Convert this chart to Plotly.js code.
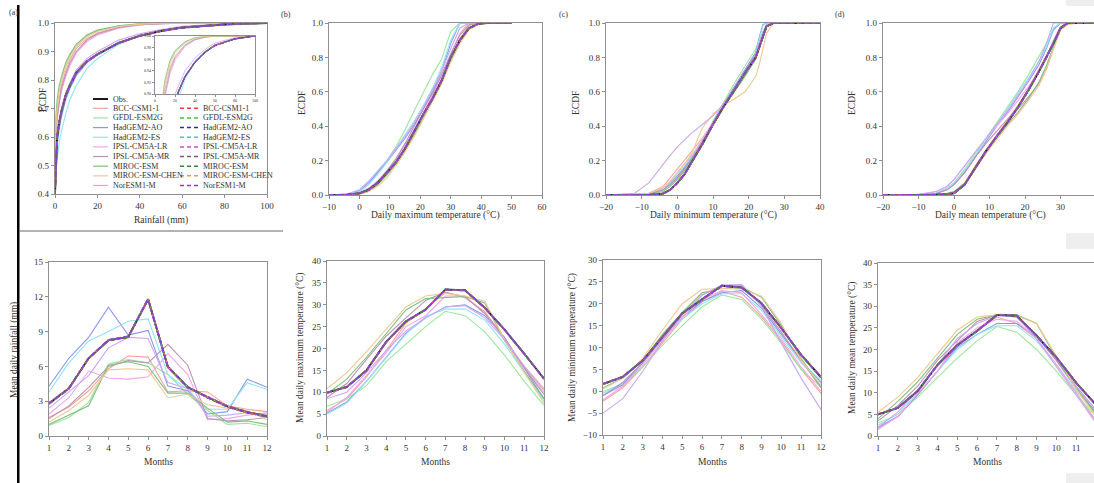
<!DOCTYPE html>
<html><head><meta charset="utf-8">
<script src="https://cdn.plot.ly/plotly-3.0.1.min.js"></script>
<style>html,body{margin:0;padding:0;overflow:hidden;background:#fff}#chart{width:1100px;height:483px}</style>
</head><body><div id="chart"></div>
<script>
const modelNames = ['BCC-CSM1-1','GFDL-ESM2G','HadGEM2-AO','HadGEM2-ES','IPSL-CM5A-LR','IPSL-CM5A-MR','MIROC-ESM','MIROC-ESM-CHEN','NorESM1-M'];
const rawColors = ['#f2a49c','#9be89b','#8c96f0','#90e4f5','#f3a6ec','#b994b4','#7fc07f','#f2c896','#c9a8f5'];
const bcColors  = ['#e8403a','#3cc83c','#2a2aa8','#38c8e8','#e040d8','#7a5c78','#2e8a2e','#f09a28','#8a3ae0'];
const months = [1,2,3,4,5,6,7,8,9,10,11,12];

// (a) rainfall ECDF
const rainX = [0,0.5,1,2,3,5,7,10,15,20,30,40,50,60,80,100];
const rainObs = [0.40,0.55,0.60,0.65,0.69,0.745,0.78,0.825,0.865,0.89,0.93,0.955,0.972,0.984,0.995,1.0];
const rainRaw = [
 [0.40,0.62,0.68,0.74,0.78,0.83,0.87,0.91,0.945,0.965,0.985,0.994,0.998,1,1,1],
 [0.40,0.66,0.71,0.77,0.80,0.85,0.885,0.92,0.955,0.972,0.99,0.997,0.999,1,1,1],
 [0.40,0.52,0.57,0.63,0.67,0.73,0.77,0.815,0.86,0.888,0.93,0.956,0.973,0.985,0.996,1],
 [0.40,0.48,0.52,0.58,0.62,0.68,0.73,0.78,0.84,0.875,0.925,0.955,0.972,0.985,0.996,1],
 [0.40,0.60,0.66,0.72,0.76,0.81,0.85,0.895,0.935,0.958,0.982,0.993,0.998,1,1,1],
 [0.40,0.61,0.67,0.73,0.77,0.82,0.86,0.90,0.94,0.962,0.984,0.994,0.998,1,1,1],
 [0.40,0.68,0.73,0.78,0.81,0.86,0.89,0.925,0.958,0.975,0.99,0.997,0.999,1,1,1],
 [0.40,0.65,0.70,0.76,0.795,0.845,0.88,0.918,0.952,0.97,0.988,0.996,0.999,1,1,1],
 [0.40,0.56,0.61,0.66,0.70,0.755,0.79,0.835,0.875,0.90,0.94,0.962,0.977,0.988,0.997,1]
];
const rainBC = [
 [0.40,0.55,0.60,0.652,0.69,0.745,0.782,0.826,0.866,0.891,0.93,0.955,0.972,0.984,0.995,1],
 [0.40,0.551,0.601,0.65,0.691,0.746,0.78,0.825,0.864,0.889,0.929,0.954,0.971,0.984,0.995,1],
 [0.40,0.548,0.598,0.649,0.689,0.744,0.779,0.824,0.865,0.89,0.93,0.955,0.972,0.983,0.995,1],
 [0.40,0.549,0.60,0.65,0.69,0.743,0.779,0.823,0.863,0.889,0.929,0.955,0.972,0.984,0.995,1],
 [0.40,0.552,0.602,0.651,0.691,0.746,0.781,0.826,0.866,0.891,0.931,0.956,0.972,0.984,0.995,1],
 [0.40,0.55,0.60,0.65,0.69,0.745,0.78,0.825,0.865,0.89,0.93,0.955,0.972,0.984,0.995,1],
 [0.40,0.551,0.60,0.651,0.69,0.745,0.781,0.825,0.866,0.89,0.93,0.955,0.973,0.984,0.995,1],
 [0.40,0.549,0.599,0.649,0.69,0.744,0.78,0.824,0.865,0.89,0.93,0.955,0.972,0.985,0.995,1],
 [0.40,0.55,0.60,0.65,0.69,0.745,0.78,0.825,0.865,0.89,0.93,0.955,0.972,0.984,0.995,1]
];

// (b) daily maximum temperature ECDF
const tmaxX = [-10,-4,0,3,6,9,12,15,18,21,24,27,30,33,36,39,42,50];
const tmaxObs = [0,0.002,0.01,0.03,0.07,0.13,0.19,0.27,0.37,0.47,0.56,0.665,0.80,0.90,0.97,0.995,1,1];
const tmaxRaw = [
 [0,0.001,0.005,0.02,0.06,0.12,0.19,0.27,0.36,0.46,0.56,0.67,0.79,0.91,0.985,1,1,1],
 [0,0.005,0.02,0.06,0.13,0.20,0.28,0.38,0.49,0.60,0.70,0.79,0.95,1,1,1,1,1],
 [0,0.005,0.025,0.07,0.13,0.19,0.26,0.33,0.41,0.50,0.60,0.72,0.88,1,1,1,1,1],
 [0,0.005,0.02,0.06,0.12,0.19,0.27,0.35,0.43,0.52,0.62,0.74,0.90,1,1,1,1,1],
 [0,0.003,0.015,0.04,0.08,0.14,0.21,0.29,0.38,0.48,0.58,0.69,0.82,0.94,1,1,1,1],
 [0,0.002,0.01,0.035,0.08,0.14,0.21,0.30,0.40,0.50,0.59,0.70,0.82,0.93,0.99,1,1,1],
 [0,0.001,0.006,0.025,0.06,0.115,0.18,0.26,0.35,0.45,0.55,0.655,0.78,0.89,0.965,0.995,1,1],
 [0,0.001,0.005,0.02,0.05,0.10,0.17,0.25,0.34,0.44,0.54,0.645,0.77,0.88,0.96,0.99,1,1],
 [0,0.006,0.03,0.08,0.14,0.20,0.27,0.34,0.42,0.51,0.61,0.72,0.85,0.97,1,1,1,1]
];
const tmaxBC = [
 [0,0.002,0.01,0.031,0.07,0.13,0.19,0.27,0.37,0.47,0.56,0.665,0.80,0.90,0.97,0.995,1,1],
 [0,0.002,0.011,0.03,0.071,0.131,0.191,0.271,0.371,0.47,0.561,0.666,0.80,0.90,0.97,0.995,1,1],
 [0,0.002,0.01,0.03,0.07,0.129,0.189,0.269,0.369,0.469,0.559,0.664,0.799,0.899,0.97,0.995,1,1],
 [0,0.002,0.01,0.03,0.07,0.13,0.19,0.27,0.37,0.47,0.56,0.665,0.80,0.90,0.97,0.995,1,1],
 [0,0.002,0.012,0.032,0.072,0.132,0.192,0.272,0.372,0.472,0.562,0.667,0.802,0.902,0.971,0.995,1,1],
 [0,0.002,0.01,0.03,0.07,0.13,0.19,0.27,0.37,0.47,0.56,0.665,0.80,0.90,0.97,0.995,1,1],
 [0,0.002,0.009,0.029,0.069,0.129,0.189,0.269,0.369,0.469,0.559,0.664,0.799,0.899,0.969,0.995,1,1],
 [0,0.001,0.009,0.028,0.068,0.128,0.188,0.268,0.368,0.468,0.558,0.663,0.798,0.898,0.969,0.994,1,1],
 [0,0.002,0.01,0.03,0.07,0.13,0.19,0.27,0.37,0.47,0.56,0.665,0.80,0.90,0.97,0.995,1,1]
];

// (c) daily minimum temperature ECDF
const tminX = [-20,-12,-8,-4,-2,0,2,4,7,10,13,16,19,22,23,24,25,27,30,40];
const tminObs = [0,0,0.001,0.008,0.03,0.07,0.12,0.19,0.295,0.41,0.515,0.61,0.71,0.80,0.86,0.93,0.98,1,1,1];
const tminRaw = [
 [0,0.002,0.01,0.05,0.10,0.15,0.20,0.25,0.33,0.42,0.51,0.60,0.70,0.81,0.87,0.93,0.98,1,1,1],
 [0,0.001,0.005,0.03,0.06,0.10,0.15,0.21,0.31,0.43,0.54,0.65,0.75,0.85,0.90,0.95,0.99,1,1,1],
 [0,0.001,0.005,0.03,0.07,0.11,0.16,0.22,0.31,0.42,0.53,0.63,0.73,0.83,0.92,0.99,1,1,1,1],
 [0,0.001,0.006,0.035,0.075,0.12,0.17,0.22,0.31,0.42,0.52,0.62,0.72,0.82,0.91,0.985,1,1,1,1],
 [0,0.002,0.01,0.04,0.08,0.13,0.18,0.23,0.32,0.42,0.52,0.61,0.71,0.81,0.87,0.93,0.98,1,1,1],
 [0,0.001,0.005,0.03,0.06,0.10,0.15,0.21,0.31,0.42,0.52,0.62,0.72,0.82,0.88,0.94,0.985,1,1,1],
 [0,0.001,0.004,0.02,0.05,0.09,0.14,0.20,0.30,0.41,0.51,0.60,0.69,0.79,0.86,0.93,0.98,1,1,1],
 [0,0.002,0.01,0.04,0.08,0.13,0.18,0.24,0.39,0.47,0.52,0.56,0.60,0.69,0.76,0.85,0.94,1,1,1],
 [0,0.01,0.07,0.18,0.23,0.28,0.32,0.36,0.41,0.46,0.53,0.61,0.71,0.81,0.88,0.95,0.99,1,1,1]
];
const tminBC = [
 [0,0,0.001,0.009,0.031,0.071,0.121,0.19,0.295,0.41,0.515,0.61,0.71,0.80,0.86,0.93,0.98,1,1,1],
 [0,0,0.001,0.008,0.03,0.07,0.12,0.191,0.296,0.411,0.516,0.611,0.711,0.801,0.861,0.931,0.98,1,1,1],
 [0,0,0.001,0.007,0.029,0.069,0.119,0.189,0.294,0.409,0.514,0.609,0.709,0.799,0.859,0.929,0.979,1,1,1],
 [0,0,0.001,0.008,0.03,0.07,0.12,0.19,0.295,0.41,0.515,0.61,0.71,0.80,0.86,0.93,0.98,1,1,1],
 [0,0,0.002,0.01,0.032,0.072,0.122,0.192,0.297,0.412,0.517,0.612,0.712,0.802,0.862,0.932,0.981,1,1,1],
 [0,0,0.001,0.008,0.03,0.07,0.12,0.19,0.295,0.41,0.515,0.61,0.71,0.80,0.86,0.93,0.98,1,1,1],
 [0,0,0.001,0.008,0.029,0.069,0.119,0.189,0.294,0.409,0.514,0.609,0.709,0.799,0.859,0.929,0.979,1,1,1],
 [0,0,0.001,0.007,0.028,0.068,0.118,0.188,0.293,0.408,0.513,0.608,0.708,0.798,0.858,0.928,0.979,1,1,1],
 [0,0,0.001,0.008,0.03,0.07,0.12,0.19,0.295,0.41,0.515,0.61,0.71,0.80,0.86,0.93,0.98,1,1,1]
];

// (d) daily mean temperature ECDF
const tmeanX = [-20,-10,-5,-2,0,3,6,9,12,15,18,21,24,26,28,30,32,35,40];
const tmeanObs = [0,0,0.002,0.005,0.01,0.06,0.16,0.255,0.34,0.42,0.51,0.61,0.72,0.80,0.88,0.97,1,1,1];
const tmeanRaw = [
 [0,0,0.002,0.006,0.015,0.07,0.17,0.26,0.345,0.43,0.52,0.62,0.73,0.81,0.89,0.97,1,1,1],
 [0,0.001,0.01,0.04,0.07,0.15,0.24,0.33,0.42,0.51,0.60,0.70,0.81,0.88,0.97,1,1,1,1],
 [0,0.001,0.01,0.03,0.06,0.13,0.22,0.31,0.40,0.48,0.57,0.66,0.76,0.85,0.96,1,1,1,1],
 [0,0.001,0.012,0.04,0.07,0.14,0.23,0.32,0.41,0.50,0.59,0.68,0.78,0.86,0.97,1,1,1,1],
 [0,0.002,0.02,0.05,0.09,0.17,0.25,0.33,0.40,0.47,0.55,0.63,0.72,0.80,0.90,0.98,1,1,1],
 [0,0.001,0.008,0.03,0.06,0.13,0.22,0.30,0.37,0.44,0.50,0.57,0.65,0.73,0.85,0.96,1,1,1],
 [0,0,0.003,0.01,0.02,0.07,0.16,0.25,0.33,0.41,0.48,0.56,0.66,0.75,0.86,0.96,1,1,1],
 [0,0,0.002,0.008,0.015,0.06,0.15,0.24,0.32,0.40,0.47,0.55,0.64,0.73,0.85,0.96,0.99,1,1],
 [0,0.002,0.02,0.05,0.09,0.17,0.25,0.33,0.41,0.49,0.58,0.67,0.78,0.88,1,1,1,1,1]
];
const tmeanBC = [
 [0,0,0.002,0.005,0.011,0.061,0.161,0.256,0.341,0.42,0.51,0.61,0.72,0.80,0.88,0.97,1,1,1],
 [0,0,0.002,0.006,0.012,0.062,0.162,0.257,0.342,0.421,0.511,0.611,0.721,0.801,0.881,0.97,1,1,1],
 [0,0,0.002,0.005,0.01,0.059,0.159,0.254,0.339,0.419,0.509,0.609,0.719,0.799,0.879,0.969,1,1,1],
 [0,0,0.002,0.005,0.01,0.06,0.16,0.255,0.34,0.42,0.51,0.61,0.72,0.80,0.88,0.97,1,1,1],
 [0,0,0.003,0.006,0.012,0.062,0.162,0.257,0.342,0.422,0.512,0.612,0.722,0.802,0.882,0.971,1,1,1],
 [0,0,0.002,0.005,0.01,0.06,0.16,0.255,0.34,0.42,0.51,0.61,0.72,0.80,0.88,0.97,1,1,1],
 [0,0,0.002,0.005,0.01,0.059,0.159,0.254,0.339,0.419,0.509,0.609,0.719,0.799,0.879,0.969,1,1,1],
 [0,0,0.001,0.004,0.009,0.058,0.158,0.253,0.338,0.418,0.508,0.608,0.718,0.798,0.878,0.968,1,1,1],
 [0,0,0.002,0.005,0.01,0.06,0.16,0.255,0.34,0.42,0.51,0.61,0.72,0.80,0.88,0.97,1,1,1]
];

// (e) monthly mean daily rainfall
const rainMonObs = [2.8,4.1,6.7,8.25,8.55,11.8,5.95,4.2,3.35,2.55,2.05,1.7];
const rainMonRaw = [
 [1.6,2.5,3.9,5.8,6.9,6.8,3.8,3.9,3.8,2.6,2.3,2.1],
 [0.9,1.6,2.9,6.2,6.6,6.3,5.3,3.6,2.2,1.0,1.1,0.8],
 [4.3,6.7,8.5,11.1,8.7,9.1,4.3,3.9,1.9,2.1,4.9,4.2],
 [3.8,6.3,8.2,9.0,9.9,10.1,5.3,4.0,2.3,2.3,4.6,4.0],
 [1.9,3.3,5.6,5.0,4.9,5.1,7.1,5.3,1.4,1.5,1.8,2.0],
 [1.5,2.6,4.2,6.0,6.5,6.3,7.9,6.1,1.5,1.3,1.4,1.6],
 [1.0,1.8,2.6,6.1,6.4,6.0,3.7,3.7,2.4,1.2,1.3,1.0],
 [1.2,2.2,3.5,5.7,5.8,5.7,3.3,3.6,2.7,2.4,2.2,1.4],
 [2.4,3.8,5.2,7.6,8.5,8.4,4.6,4.1,1.7,1.8,2.0,1.9]
];
const rainMonBC = [
 [2.85,4.15,6.7,8.2,8.55,11.75,5.95,4.2,3.4,2.6,2.1,1.75],
 [2.8,4.1,6.65,8.25,8.5,11.8,5.9,4.15,3.35,2.55,2.05,1.7],
 [2.75,4.05,6.7,8.3,8.6,11.85,6.0,4.25,3.3,2.5,2.0,1.65],
 [2.8,4.1,6.7,8.25,8.55,11.8,5.95,4.2,3.35,2.55,2.05,1.7],
 [2.85,4.1,6.75,8.25,8.55,11.7,5.9,4.2,3.35,2.6,2.05,1.7],
 [2.8,4.1,6.7,8.25,8.55,11.8,5.95,4.2,3.35,2.55,2.05,1.7],
 [2.8,4.15,6.7,8.2,8.5,11.75,5.95,4.2,3.3,2.55,2.05,1.7],
 [2.75,4.1,6.65,8.25,8.55,11.85,6.0,4.2,3.35,2.55,2.0,1.7],
 [2.8,4.1,6.7,8.25,8.55,11.8,5.95,4.2,3.35,2.55,2.05,1.7]
];

// (f) monthly mean daily maximum temperature
const tmaxMonObs = [9.9,11.2,15.0,21.5,26.2,28.9,33.5,33.3,29.3,24.3,18.8,13.1];
const tmaxMonRaw = [
 [5.8,8.5,13.5,19.5,25.8,29.0,32.8,31.6,28.4,22.3,15.8,10.5],
 [6.8,8.5,11.5,17.0,21.0,25.0,28.5,27.5,23.8,18.5,12.5,7.0],
 [5.2,7.8,12.5,18.0,23.5,27.0,29.5,30.0,27.5,22.5,15.5,8.5],
 [5.0,7.5,12.5,18.0,23.3,27.3,29.0,29.0,26.5,21.0,14.5,8.0],
 [5.5,8.8,13.8,19.0,25.0,27.5,32.0,32.0,28.0,22.0,15.5,10.0],
 [8.8,12.0,17.5,22.8,27.0,31.0,32.9,31.8,28.0,22.5,15.5,9.5],
 [9.6,13.0,18.0,23.4,28.8,31.4,31.6,31.9,30.4,21.8,14.8,8.5],
 [10.8,14.5,19.3,24.4,29.5,32.0,32.6,32.0,30.8,22.0,14.5,7.5],
 [8.5,10.0,14.5,19.5,24.0,27.0,29.5,29.8,27.0,22.0,16.0,10.8]
];
const tmaxMonBC = [
 [9.9,11.2,15.1,21.5,26.2,28.9,33.4,33.2,29.3,24.3,18.8,13.1],
 [9.8,11.1,15.0,21.4,26.1,28.8,33.5,33.3,29.2,24.2,18.7,13.0],
 [9.9,11.2,15.0,21.5,26.2,28.9,33.5,33.3,29.3,24.3,18.8,13.1],
 [10.0,11.3,15.0,21.6,26.3,29.0,33.5,33.4,29.4,24.4,18.9,13.2],
 [9.9,11.2,15.0,21.5,26.2,28.9,33.5,33.3,29.3,24.3,18.8,13.1],
 [9.9,11.1,14.9,21.5,26.2,28.9,33.4,33.3,29.3,24.3,18.8,13.1],
 [9.9,11.2,15.0,21.5,26.2,28.9,33.5,33.3,29.3,24.3,18.8,13.1],
 [9.8,11.2,15.0,21.4,26.1,28.9,33.5,33.2,29.2,24.3,18.8,13.0],
 [9.9,11.2,15.0,21.5,26.2,28.9,33.5,33.3,29.3,24.3,18.8,13.1]
];

// (g) monthly mean daily minimum temperature
const tminMonObs = [1.65,3.3,7.0,12.5,17.8,21.0,24.1,23.7,20.1,14.4,8.3,3.2];
const tminMonRaw = [
 [-2.3,0.8,5.5,11.0,16.5,20.5,22.8,21.5,17.0,11.5,5.0,-0.5],
 [0.0,1.5,5.5,10.5,15.0,19.3,22.0,21.0,16.5,11.0,5.0,1.0],
 [-1.0,1.5,6.5,12.0,17.0,20.5,22.5,23.0,19.0,13.0,7.0,2.0],
 [-0.5,2.0,6.5,12.0,16.5,20.0,22.3,22.3,18.5,12.5,6.5,2.5],
 [-2.0,1.2,6.0,11.5,17.0,21.0,23.0,22.5,17.5,12.0,5.5,0.0],
 [-1.0,2.0,6.5,12.0,17.5,22.0,24.0,24.3,19.5,13.5,7.0,0.8],
 [0.8,3.0,7.0,13.0,18.0,22.5,23.5,23.8,21.5,15.0,7.5,1.0],
 [0.5,3.0,7.5,14.0,20.0,23.3,23.5,23.3,21.7,15.5,7.0,1.5],
 [-5.0,-1.7,4.5,11.5,17.5,22.0,24.3,24.4,19.5,11.0,3.0,-4.2]
];
const tminMonBC = [
 [1.6,3.3,7.0,12.5,17.8,21.0,24.1,23.7,20.1,14.4,8.3,3.2],
 [1.7,3.4,7.1,12.6,17.9,21.1,24.0,23.6,20.0,14.3,8.2,3.1],
 [1.65,3.3,7.0,12.5,17.8,21.0,24.1,23.7,20.1,14.4,8.3,3.2],
 [1.6,3.2,6.9,12.4,17.7,20.9,24.0,23.6,20.0,14.3,8.2,3.1],
 [1.65,3.3,7.0,12.5,17.8,21.0,24.1,23.7,20.1,14.4,8.3,3.2],
 [1.7,3.3,7.0,12.5,17.8,21.0,24.2,23.8,20.2,14.5,8.4,3.3],
 [1.65,3.3,7.0,12.5,17.8,21.0,24.1,23.7,20.1,14.4,8.3,3.2],
 [1.6,3.3,7.0,12.5,17.8,21.0,24.1,23.7,20.1,14.4,8.3,3.2],
 [1.65,3.3,7.0,12.5,17.8,21.0,24.1,23.7,20.1,14.4,8.3,3.2]
];

// (h) monthly mean daily mean temperature
const tmeanMonObs = [5.0,6.5,10.4,16.4,21.0,24.3,28.0,27.8,23.2,18.2,12.3,7.2];
const tmeanMonRaw = [
 [1.8,4.5,9.5,15.0,21.0,24.5,27.5,26.0,22.5,16.5,10.0,3.5],
 [3.0,5.0,9.0,13.5,18.0,22.0,25.3,24.0,20.0,15.0,9.5,4.5],
 [2.0,4.5,9.5,15.0,20.5,23.5,26.0,26.0,23.0,17.5,11.0,5.5],
 [2.5,5.0,10.0,15.0,20.0,23.5,25.5,25.5,22.0,16.5,10.5,5.0],
 [1.5,4.5,9.8,15.0,21.5,25.0,27.0,26.5,22.5,16.5,10.0,3.0],
 [3.5,7.0,11.5,17.5,22.0,26.5,28.0,27.5,23.5,17.5,11.5,6.0],
 [4.0,8.0,12.5,18.0,23.5,27.0,28.0,28.0,26.0,18.0,11.0,5.0],
 [5.5,9.0,13.5,19.0,24.5,27.5,28.0,27.8,26.0,18.5,10.8,4.5],
 [2.0,5.5,10.5,16.5,22.5,26.0,27.8,27.5,22.5,16.0,9.5,3.0]
];
const tmeanMonBC = [
 [5.0,6.5,10.4,16.4,21.0,24.3,28.0,27.8,23.2,18.2,12.3,7.2],
 [5.1,6.6,10.5,16.5,21.1,24.4,28.1,27.9,23.3,18.3,12.4,7.3],
 [5.0,6.5,10.4,16.4,21.0,24.3,28.0,27.8,23.2,18.2,12.3,7.2],
 [4.9,6.4,10.3,16.3,20.9,24.2,27.9,27.7,23.1,18.1,12.2,7.1],
 [5.0,6.5,10.4,16.4,21.0,24.3,28.0,27.8,23.2,18.2,12.3,7.2],
 [5.0,6.5,10.5,16.5,21.0,24.3,28.0,27.8,23.2,18.2,12.3,7.2],
 [5.0,6.5,10.4,16.4,21.0,24.3,28.0,27.8,23.2,18.2,12.3,7.2],
 [5.1,6.5,10.4,16.4,21.0,24.3,28.0,27.8,23.2,18.2,12.3,7.2],
 [5.0,6.5,10.4,16.4,21.0,24.3,28.0,27.8,23.2,18.2,12.3,7.2]
];

// ---------- drawing ----------
const W = 1100, H = 483;
const FONT = 'Liberation Serif, Times New Roman, serif';
const px = v => v / W, py = v => 1 - v / H;
const traces = [];
function addPanel(n, xs, obs, raw, bc, opts) {
  const xa = 'x' + (n === 1 ? '' : n), ya = 'y' + (n === 1 ? '' : n);
  const o = opts || {};
  for (let i = 0; i < raw.length; i++) {
    traces.push({x: xs, y: raw[i], xaxis: xa, yaxis: ya, mode: 'lines', showlegend: false, hoverinfo: 'skip',
      line: {color: rawColors[i], width: o.rw || 1.1}});
  }
  traces.push({x: xs, y: obs, xaxis: xa, yaxis: ya, mode: 'lines', showlegend: false, hoverinfo: 'skip',
    line: {color: '#1a1a1a', width: o.ow || 1.9}});
  for (let i = 0; i < bc.length; i++) {
    traces.push({x: xs, y: bc[i], xaxis: xa, yaxis: ya, mode: 'lines', showlegend: false, hoverinfo: 'skip',
      line: {color: bcColors[i], width: o.bw || 1.5, dash: (3 + (i % 3)) + 'px,' + (3 + (i % 2)) + 'px'}});
  }
}
addPanel(1, rainX, rainObs, rainRaw, rainBC);
addPanel(2, tmaxX, tmaxObs, tmaxRaw, tmaxBC);
addPanel(3, tminX, tminObs, tminRaw, tminBC);
addPanel(4, tmeanX, tmeanObs, tmeanRaw, tmeanBC);
addPanel(5, months, rainMonObs, rainMonRaw, rainMonBC);
addPanel(6, months, tmaxMonObs, tmaxMonRaw, tmaxMonBC);
addPanel(7, months, tminMonObs, tminMonRaw, tminMonBC);
addPanel(8, months, tmeanMonObs, tmeanMonRaw, tmeanMonBC);
addPanel(9, rainX, rainObs, rainRaw, rainBC, {rw: 0.8, ow: 1.2, bw: 1.0});

function axis(x0, x1, range, dtick, fmt, anchor, fs) {
  return {domain: [x0, x1], range: range, dtick: dtick, tick0: range[0], tickformat: fmt || '',
    showline: true, mirror: true, linecolor: '#8f8f8f', linewidth: 1.3, ticks: 'outside', ticklen: fs ? 2 : 3,
    tickcolor: '#8f8f8f', tickwidth: 1, tickfont: {family: FONT, size: fs || 9, color: '#333'},
    showgrid: false, zeroline: false, anchor: anchor, fixedrange: true, automargin: false};
}
const layout = {
  width: W, height: H, margin: {l: 0, r: 0, t: 0, b: 0}, paper_bgcolor: '#fff', plot_bgcolor: '#fff',
  showlegend: false, font: {family: FONT, color: '#333'},
  xaxis:  axis(px(55), px(267), [0, 100], 20, '', 'y'),
  yaxis:  axis(py(194), py(23), [0.4, 1.0], 0.1, '.1f', 'x'),
  xaxis2: axis(px(329), px(542), [-10, 60], 10, '', 'y2'),
  yaxis2: axis(py(195), py(23), [0, 1], 0.2, '.1f', 'x2'),
  xaxis3: axis(px(606), px(820), [-20, 40], 10, '', 'y3'),
  yaxis3: axis(py(195), py(23), [0, 1], 0.2, '.1f', 'x3'),
  xaxis4: axis(px(883), px(1096), [-20, 40], 10, '', 'y4'),
  yaxis4: axis(py(195), py(23), [0, 1], 0.2, '.1f', 'x4'),
  xaxis5: axis(px(49), px(267), [1, 12], 1, '', 'y5'),
  yaxis5: axis(py(436), py(262), [0, 15], 3, '', 'x5'),
  xaxis6: axis(px(327), px(544), [1, 12], 1, '', 'y6'),
  yaxis6: axis(py(436), py(261), [0, 40], 5, '', 'x6'),
  xaxis7: axis(px(603), px(821), [1, 12], 1, '', 'y7'),
  yaxis7: axis(py(435), py(260), [-10, 30], 5, '', 'x7'),
  xaxis8: axis(px(878), px(1096), [1, 12], 1, '', 'y8'),
  yaxis8: axis(py(436), py(263), [0, 40], 5, '', 'x8'),
  xaxis9: axis(px(155), px(255), [0, 100], 20, '', 'y9', 4),
  yaxis9: axis(py(94), py(36), [0.9, 1.0], 0.02, '.2f', 'x9', 4),
  annotations: [], shapes: []
};
const ann = layout.annotations, shp = layout.shapes;
function label(text, x, y, size, angle, anchor) {
  ann.push({text: text, x: px(x), y: py(y), xref: 'paper', yref: 'paper', showarrow: false,
    xanchor: anchor || 'center', yanchor: 'middle', textangle: angle || 0,
    font: {family: FONT, size: size, color: '#333'}});
}
// panel tags
label('(a)', 13, 13, 8); label('(b)', 286, 15, 8); label('(c)', 563, 14, 8); label('(d)', 840, 15, 8);
// axis titles
const xTitles = [['Rainfall (mm)', 161, 220], ['Daily maximum temperature (°C)', 435, 215],
  ['Daily minimum temperature (°C)', 713, 215], ['Daily mean temperature (°C)', 990, 215],
  ['Months', 158, 462], ['Months', 435, 462], ['Months', 712, 462], ['Months', 987, 462]];
xTitles.forEach(t => label(t[0], t[1], t[2], 9.5));
const yTitles = [['ECDF', 43, 100], ['ECDF', 302, 103], ['ECDF', 576, 103], ['ECDF', 852, 103],
  ['Mean daily rainfall (mm)', 14, 350], ['Mean daily maximum temperature (°C)', 300, 348],
  ['Mean daily minimum temperature (°C)', 572, 348], ['Mean daily mean temperature (°C)', 852, 348]];
yTitles.forEach(t => label(t[0], t[1], t[2], 9.5, -90));
// legend in panel (a)
const legTop = 99, legStep = 9.65;
shp.push({type: 'line', xref: 'paper', yref: 'paper', x0: px(93), x1: px(108), y0: py(legTop), y1: py(legTop),
  line: {color: '#1a1a1a', width: 2}});
label('Obs.', 111, legTop, 8, 0, 'left');
modelNames.forEach((name, i) => {
  const yy = legTop + 9.3 + i * legStep;
  shp.push({type: 'line', xref: 'paper', yref: 'paper', x0: px(93), x1: px(108), y0: py(yy), y1: py(yy),
    line: {color: rawColors[i], width: 1.2}});
  label(name, 111, yy, 8, 0, 'left');
  shp.push({type: 'line', xref: 'paper', yref: 'paper', x0: px(180), x1: px(198), y0: py(yy), y1: py(yy),
    line: {color: bcColors[i], width: 1.5, dash: '4px,3px'}});
  label(name, 201, yy, 8, 0, 'left');
});
// page artefacts around the figure
shp.push({type: 'rect', xref: 'paper', yref: 'paper', x0: px(17), x1: px(19.5), y0: py(483), y1: py(5),
  fillcolor: '#000', line: {width: 0}});
shp.push({type: 'line', xref: 'paper', yref: 'paper', x0: px(19), x1: px(283), y0: py(231), y1: py(231),
  line: {color: '#666', width: 1}});
[[0, 6], [233, 249], [473, 483]].forEach(r => shp.push({type: 'rect', xref: 'paper', yref: 'paper',
  x0: px(1066), x1: px(1100), y0: py(r[1]), y1: py(r[0]), fillcolor: '#eeeeee', line: {width: 0}}));

Plotly.newPlot('chart', traces, layout, {displayModeBar: false, staticPlot: true});
</script>
</body></html>
